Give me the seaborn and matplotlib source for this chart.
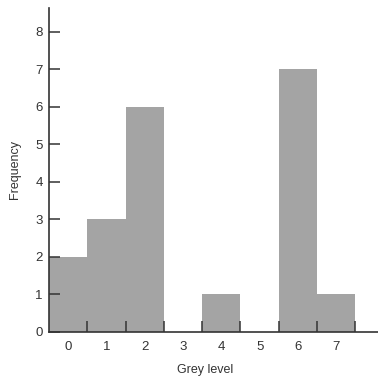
import numpy as np
import matplotlib
matplotlib.use("Agg")
import matplotlib.pyplot as plt
import seaborn as sns
from matplotlib.ticker import FixedLocator

# -----------------------------
# Data: grey level histogram
# -----------------------------
grey_levels = [0, 1, 2, 3, 4, 5, 6, 7]
frequency = [2, 3, 6, 0, 1, 0, 7, 1]
y_ticks = [0, 1, 2, 3, 4, 5, 6, 7, 8]

sns.set_style("white")
plt.rcParams["font.family"] = ["Liberation Sans", "DejaVu Sans"]

fig = plt.figure(figsize=(3.78, 3.77), dpi=100)
ax = fig.add_axes([0.1296, 0.1194, 0.8704, 0.8594])

sns.histplot(
    x=grey_levels,
    weights=frequency,
    discrete=True,
    color="#a4a4a4",
    edgecolor="none",
    alpha=1,
    ax=ax,
)

ax.set_xlim(-0.5, 8.09)
ax.set_ylim(0, 8.64)
# ticks must sit on top of the bars
ax.set_axisbelow(False)

# Labels sit at the bin centres, the small inward ticks mark the bin edges
ax.set_xticks(grey_levels)
ax.xaxis.set_minor_locator(FixedLocator([g + 0.5 for g in grey_levels]))
ax.set_yticks(y_ticks)

ink = "#333333"
ax.tick_params(axis="x", which="major", bottom=True, length=0, pad=6.5,
               labelsize=9.5, labelcolor=ink)
ax.tick_params(axis="x", which="minor", bottom=True, direction="in",
               length=8, width=1.1, color=ink)
ax.tick_params(axis="y", which="major", left=True, direction="in", length=8,
               width=1.1, color=ink, pad=4.5, labelsize=9.5, labelcolor=ink)

for side in ["top", "right"]:
    ax.spines[side].set_visible(False)
for side in ["left", "bottom"]:
    ax.spines[side].set_color(ink)
    ax.spines[side].set_linewidth(1.2)

ax.set_xlabel("Grey level", fontsize=9, color=ink)
ax.set_ylabel("Frequency", fontsize=9, color=ink)
ax.xaxis.set_label_coords(0.474, -0.1)
ax.yaxis.set_label_coords(-0.084, 0.5)

fig.savefig("out.png", dpi=100)
